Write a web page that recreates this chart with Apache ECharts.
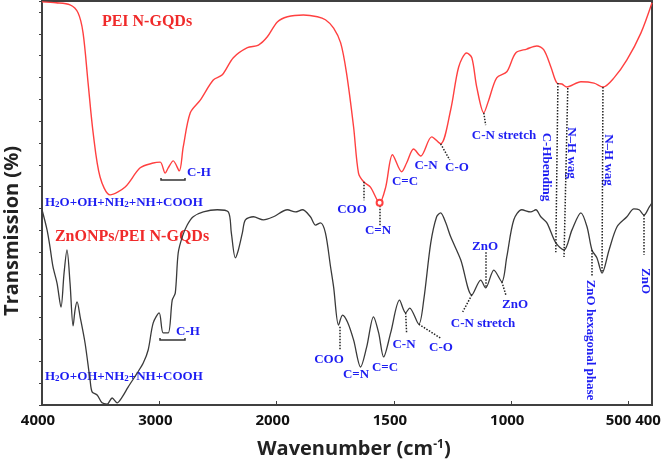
<!DOCTYPE html>
<html>
<head>
<meta charset="utf-8">
<script src="https://cdn.jsdelivr.net/npm/echarts@6/dist/echarts.min.js"></script>
<style>
html, body { margin: 0; padding: 0; background: #fff; }
#chart { width: 666px; height: 463px; }
</style>
</head>
<body>
<div id="chart"></div>
<script>
// x axis is broken: 1000 cm-1 per unit above 2000, 500 cm-1 per unit below
const tickWaves = [4000, 3000, 2000, 1500, 1000, 500, 400];

// PEI N-GQDs (red, upper trace)
const peiWave = [4000, 3880, 3761, 3693, 3650, 3607, 3564, 3505, 3419, 3291, 3163, 3052, 2992, 2950, 2924, 2881, 2830, 2796, 2736, 2651,
  2540, 2463, 2369, 2249, 2155, 2079, 1997, 1954, 1886, 1826, 1792, 1757, 1727, 1702, 1672, 1651, 1629, 1600, 1561, 1535,
  1506, 1467, 1446, 1416, 1386, 1339, 1301, 1258, 1224, 1190, 1168, 1147, 1117, 1096, 1062, 1019, 981, 934, 891, 861,
  831, 805, 784, 763, 703, 647, 609, 562, 507, 447, 400];
const peiTrans = [92.3, 92.1, 91.6, 89.8, 85.2, 73.7, 62.3, 52.2, 48.1, 49.9, 54.3, 55.4, 55.6, 53.1, 54.3, 55.9, 53.6, 59.1, 66.9, 69.8,
  74.4, 75.6, 79.5, 81.8, 82.4, 84.3, 87.7, 88.9, 89.3, 88.9, 88.2, 86.3, 82.9, 76.0, 63.7, 53.1, 51.1, 49.9, 46.3, 49.9,
  57.3, 53.4, 55.4, 58.6, 57.0, 61.4, 59.8, 67.6, 77.4, 80.6, 79.5, 72.8, 66.9, 69.8, 74.9, 76.3, 80.6, 81.5, 82.2, 81.3,
  77.4, 73.7, 73.5, 72.8, 74.0, 73.7, 72.8, 74.9, 79.0, 85.2, 92.1];

// ZnONPs/PEI N-GQDs (black, lower trace)
const znoWave = [4000, 3957, 3932, 3906, 3872, 3838, 3812, 3787, 3761, 3735, 3718, 3701, 3675, 3633, 3590, 3573, 3530, 3488, 3445, 3402,
  3360, 3317, 3266, 3189, 3137, 3095, 3052, 3001, 2967, 2924, 2890, 2864, 2839, 2804, 2762, 2711, 2625, 2506, 2412, 2386,
  2352, 2326, 2292, 2266, 2198, 2113, 2027, 1954, 1920, 1890, 1856, 1834, 1813, 1792, 1770, 1757, 1736, 1719, 1698, 1672,
  1642, 1616, 1587, 1565, 1544, 1514, 1476, 1450, 1433, 1394, 1373, 1343, 1318, 1301, 1279, 1258, 1215, 1168, 1130, 1109,
  1074, 1040, 1019, 989, 955, 917, 895, 874, 848, 810, 775, 741, 703, 677, 656, 635, 613, 583, 549, 507,
  477, 455, 434, 412, 400];
const znoTrans = [44.7, 40.1, 36.2, 31.6, 27.9, 22.4, 30.2, 35.5, 27.9, 18.1, 21.8, 23.6, 20.2, 14.2, 5.7, 3.0, 2.3, 0.5, 0.2, 1.6,
  0.5, 1.8, 4.1, 7.3, 9.6, 12.6, 18.8, 21.1, 16.5, 16.5, 24.0, 25.6, 34.8, 38.5, 41.2, 43.1, 44.2, 44.7, 44.2, 39.4,
  33.7, 35.5, 39.4, 42.4, 43.1, 42.4, 43.1, 44.7, 44.2, 44.7, 43.1, 41.2, 41.7, 39.4, 31.6, 27.0, 18.3, 20.6, 19.0, 14.9,
  8.7, 13.3, 20.2, 16.5, 11.0, 16.5, 24.0, 21.1, 22.2, 18.5, 24.0, 37.1, 43.1, 44.0, 41.7, 38.5, 33.2, 25.2, 28.6, 26.8,
  30.9, 28.2, 33.9, 42.4, 44.7, 44.2, 44.7, 43.1, 41.7, 37.1, 35.5, 40.1, 44.0, 40.8, 35.5, 33.7, 30.2, 35.5, 40.8, 43.1,
  44.9, 44.7, 43.5, 45.3, 46.3];

// dotted leaders: [wave1, trans1, wave2, trans2]
const leaders = [
  [1629, 51.1, 1629, 46.9], [1561, 46.3, 1561, 41.0], [1301, 59.8, 1262, 56.1], [1117, 66.9, 1109, 64.1],
  [801, 73.7, 810, 35.0], [759, 72.6, 775, 33.9], [609, 72.8, 613, 30.2],
  [1732, 17.9, 1732, 12.6], [1450, 21.1, 1446, 16.5], [1394, 18.5, 1301, 15.3], [1168, 25.2, 1207, 21.3],
  [1109, 35.0, 1109, 26.8], [1040, 28.2, 1023, 25.2], [656, 35.5, 656, 29.3], [434, 43.5, 434, 34.4]
];

// peak labels: [text, x, y, vertical]
const peakLabels = [
  ['C-H', 199, 173], ['COO', 352, 210], ['C=N', 378, 231], ['C=C', 405, 182], ['C-N', 426, 166], ['C-O', 457, 168],
  ['C-N stretch', 504, 136], ['C-Hbending', 546, 167, true], ['N\u2013H wag', 571, 153, true], ['N\u2013H wag', 608, 160, true],
  ['C-H', 188, 332], ['COO', 329, 360], ['C=N', 356, 375], ['C=C', 385, 368], ['C-N', 404, 345], ['C-O', 441, 348],
  ['C-N stretch', 483, 324], ['ZnO', 485, 247], ['ZnO', 515, 305], ['ZnO hexagonal phase', 590, 340, true], ['ZnO', 645, 281, true]
];

const toAxis = (w) => (w >= 2000 ? (4000 - w) / 1000 : 2 + (2000 - w) / 500);
const fromAxis = (t) => Math.round(t <= 2 ? 4000 - t * 1000 : 2000 - (t - 2) * 500);

const serif = '"Liberation Serif", "Times New Roman", serif';
const sans = '"Open Sans", "DejaVu Sans", sans-serif';
const blue = '#1e1ef2';
const red = '#f02a2a';

const chart = echarts.init(document.getElementById('chart'));

const graphic = [];
peakLabels.forEach(([text, x, y, vertical]) => {
  graphic.push({
    type: 'text', x, y, rotation: vertical ? -Math.PI / 2 : 0,
    style: { text, fill: blue, font: 'bold 13px ' + serif, align: 'center', verticalAlign: 'middle' }
  });
});
[203, 377].forEach((y) => {
  graphic.push({
    type: 'text', x: 45, y,
    style: {
      text: 'H{s|2}O+OH+NH{s|2}+NH+COOH', fill: blue, font: 'bold 13px ' + serif, align: 'left', verticalAlign: 'middle',
      rich: { s: { fontSize: 9, fontWeight: 'bold', fontFamily: serif, fill: blue, verticalAlign: 'bottom' } }
    }
  });
});
[[161, 185, 180], [160, 185, 340]].forEach(([x1, x2, y]) => {
  graphic.push({
    type: 'polyline', shape: { points: [[x1, y - 2], [x1, y], [x2, y], [x2, y - 2]] },
    style: { stroke: '#333', lineWidth: 1.5, fill: null }
  });
});
graphic.push(
  { type: 'text', x: 147, y: 22, style: { text: 'PEI N-GQDs', fill: red, font: 'bold 16px ' + serif, align: 'center', verticalAlign: 'middle' } },
  { type: 'text', x: 132, y: 237, style: { text: 'ZnONPs/PEI N-GQDs', fill: red, font: 'bold 16px ' + serif, align: 'center', verticalAlign: 'middle' } },
  { type: 'text', x: 12, y: 231, rotation: Math.PI / 2,
    style: { text: 'Transmission (%)', fill: '#222', font: 'bold 20px ' + sans, align: 'center', verticalAlign: 'middle' } },
  { type: 'text', x: 354, y: 449,
    style: {
      text: 'Wavenumber (cm{sup|-1})', fill: '#222', font: 'bold 20px ' + sans, align: 'center', verticalAlign: 'middle',
      rich: { sup: { fontSize: 12, fontWeight: 'bold', fontFamily: sans, fill: '#222', verticalAlign: 'top' } }
    } }
);

chart.setOption({
  animation: false,
  grid: { left: 42, right: 14, top: 1, bottom: 58, show: true, borderColor: '#404040', borderWidth: 2, outerBoundsMode: 'none' },
  xAxis: {
    type: 'value',
    min: 0,
    max: toAxis(400),
    interval: 1,
    axisLine: { lineStyle: { color: '#404040', width: 1.5 } },
    axisTick: { inside: true, length: 4, lineStyle: { color: '#404040' } },
    splitLine: { show: false },
    axisLabel: {
      showMaxLabel: true,
      showMinLabel: true,
      color: '#111',
      fontSize: 15,
      fontWeight: 'bold',
      fontFamily: sans,
      margin: 8,
      padding: [0, 8, 0, 0],
      formatter: (value) => {
        const w = fromAxis(value);
        return w === 500 ? '{p|500}' : String(w);
      },
      rich: { p: { padding: [0, 12, 0, 0], fontSize: 15, fontWeight: 'bold', fontFamily: sans, color: '#111' } }
    }
  },
  yAxis: {
    type: 'value',
    min: 0,
    max: 92.5,
    interval: 5,
    axisLine: { show: true, lineStyle: { color: '#404040', width: 1.5 } },
    axisTick: { show: true, length: 3, lineStyle: { color: '#404040' } },
    axisLabel: { show: false },
    splitLine: { show: false }
  },
  graphic,
  series: [
    {
      name: 'PEI N-GQDs',
      type: 'line',
      data: peiWave.map((w, i) => [toAxis(w), peiTrans[i]]),
      showSymbol: false,
      smooth: 0.3,
      lineStyle: { color: '#ff4040', width: 1.4 },
      markPoint: {
        symbol: 'emptyCircle', symbolSize: 6, silent: true,
        itemStyle: { color: '#ff4040', borderColor: '#ff4040' }, label: { show: false },
        data: [{ coord: [toAxis(1561), 46.3] }]
      },
      markLine: {
        symbol: 'none', silent: true, label: { show: false },
        lineStyle: { type: 'dotted', color: '#222', width: 1.5 },
        data: leaders.map(([w1, v1, w2, v2]) => [{ coord: [toAxis(w1), v1] }, { coord: [toAxis(w2), v2] }])
      }
    },
    {
      name: 'ZnONPs/PEI N-GQDs',
      type: 'line',
      data: znoWave.map((w, i) => [toAxis(w), znoTrans[i]]),
      showSymbol: false,
      smooth: 0.3,
      lineStyle: { color: '#3a3a3a', width: 1.3 }
    }
  ]
});
</script>
</body>
</html>
